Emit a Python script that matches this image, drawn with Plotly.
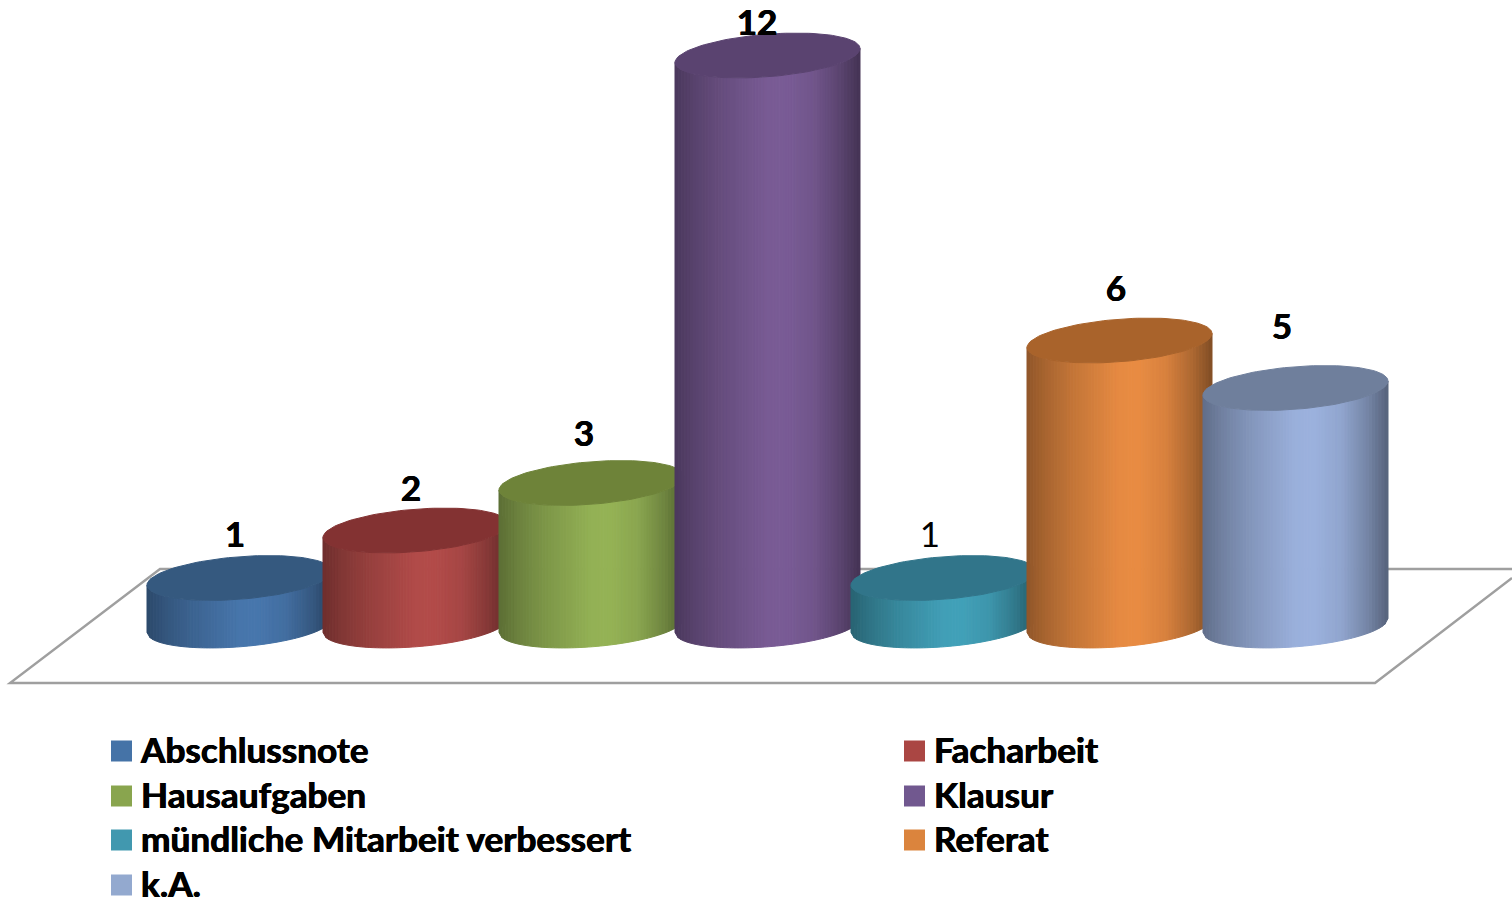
import numpy as np
import plotly.graph_objects as go

categories = ['Abschlussnote', 'Facharbeit', 'Hausaufgaben', 'Klausur',
              'mündliche Mitarbeit verbessert', 'Referat', 'k.A.']
values = [1, 2, 3, 12, 1, 6, 5]

side_colors = ['#4877ad', '#b34c4a', '#95b356', '#7a5c96', '#42a1b9', '#e98c43', '#9cb2de']
top_colors = ['#35597f', '#833232', '#6e8339', '#5a4370', '#31758a', '#a9632b', '#6f7f9c']
legend_colors = ['#4573a7', '#aa4643', '#89a54e', '#71588f', '#4198af', '#db843d', '#93a9cf']

# label nudges in pixels, excel placed them unevenly
label_dx = [-4.5, -4.5, -7.5, -10.5, -13.5, -3.5, -13.5]
label_dy = [40, 38, 46, 29.5, 40, 48, 58]
label_bold = [True, True, True, True, False, True, True]

W, H = 1512, 898
X0_PX, Y0_PX = 239.5, 625.5     # pixel of first category at value 0
X_UNIT, Y_UNIT = 176, 47.5      # pixels per category / per value

# cylinder shape in axis units
RX = 92.5 / X_UNIT
RY = 21.3 / Y_UNIT
TILT = 7 / Y_UNIT
N_STRIPS = 60

font_name = 'Lato'
heavy = '0.5px 0 0 black, -0.4px 0 0 black'


def px_x(p):
    return (p - X0_PX) / X_UNIT


def px_y(p):
    return (Y0_PX - p) / Y_UNIT


def shade(hex_color, f):
    rgb = [int(hex_color[i:i + 2], 16) for i in (1, 3, 5)]
    return 'rgb({},{},{})'.format(*[int(c * f) for c in rgb])


def arc(cx, level, u):
    # point on the front half of the ellipse, u goes 0..1 left to right
    c = 2 * u - 1
    s = np.sqrt(np.clip(1 - c * c, 0, 1))
    return cx + RX * c, level + TILT * c - RY * s


fig = go.Figure()

for i, v in enumerate(values):
    edges = np.linspace(0, 1, N_STRIPS + 1)
    for u1, u2 in zip(edges[:-1], edges[1:]):
        f = np.interp((u1 + u2) / 2,
                      [0, 0.1, 0.25, 0.5, 0.6, 0.75, 0.9, 1],
                      [0.62, 0.72, 0.84, 0.99, 1, 0.93, 0.74, 0.56])
        col = shade(side_colors[i], f)
        x1, y1 = arc(i, 0, u1)
        x2, y2 = arc(i, 0, u2)
        x3, y3 = arc(i, v, u2)
        x4, y4 = arc(i, v, u1)
        fig.add_trace(go.Scatter(
            x = [x1, x2, x3, x4, x1], y = [y1, y2, y3, y4, y1],
            mode = 'lines', fill = 'toself', fillcolor = col,
            line = dict(color = col, width = 1),
            hoverinfo = 'skip', showlegend = False))

    t = np.linspace(0, 2 * np.pi, 120)
    fig.add_trace(go.Scatter(
        x = i + RX * np.cos(t), y = v + TILT * np.cos(t) + RY * np.sin(t),
        mode = 'lines', fill = 'toself', fillcolor = top_colors[i],
        line = dict(color = top_colors[i], width = 1),
        name = categories[i], showlegend = False,
        hovertemplate = categories[i] + ': ' + str(v) + '<extra></extra>'))

##### value labels ######
for i, v in enumerate(values):
    fig.add_trace(go.Scatter(
        x = [i + label_dx[i] / X_UNIT],
        y = [v + label_dy[i] / Y_UNIT],
        mode = 'text',
        text = [('<b>%d</b>' % v) if label_bold[i] else str(v)],
        textposition = 'middle center',
        textfont = dict(family = font_name, size = 35, color = 'black',
                        shadow = heavy if label_bold[i] else 'none'),
        hoverinfo = 'skip', showlegend = False))

##### legend, two columns ######
legend_x = [111 if i % 2 == 0 else 904 for i in range(len(categories))]
legend_y = [751, 751, 796, 796, 840, 840, 885]
fig.add_trace(go.Scatter(
    x = [px_x(p + 10.5) for p in legend_x], y = [px_y(p) for p in legend_y],
    mode = 'markers',
    marker = dict(symbol = 'square', size = 21, color = legend_colors),
    hoverinfo = 'skip', showlegend = False))
fig.add_trace(go.Scatter(
    x = [px_x(p + 30) for p in legend_x], y = [px_y(p + 3.5) for p in legend_y],
    mode = 'text',
    text = ['<b>' + c + '</b>' for c in categories],
    textposition = 'middle right',
    textfont = dict(family = font_name, size = 35.2, color = 'black', shadow = heavy),
    hoverinfo = 'skip', showlegend = False))

# floor of the 3d box
fl = 'M {} {} L {} {} L {} {} L {} {} L {} {}'.format(
    px_x(1512), px_y(578), px_x(1375), px_y(683), px_x(10), px_y(683),
    px_x(160), px_y(569), px_x(1512), px_y(569))

fig.update_layout(
    width = W, height = H,
    margin = dict(l = 0, r = 0, t = 0, b = 0),
    plot_bgcolor = 'white', paper_bgcolor = 'white',
    showlegend = False,
    xaxis = dict(range = [px_x(0), px_x(W)], visible = False, fixedrange = True),
    yaxis = dict(range = [px_y(H), px_y(0)], visible = False, fixedrange = True),
    shapes = [dict(type = 'path', path = fl, layer = 'below', xref = 'x', yref = 'y',
                   line = dict(color = '#9f9f9f', width = 2.4))],
)

# page has a default body margin that would push the chart off
fig.write_html("out.html", config = dict(displayModeBar = False),
               post_script = "document.body.style.margin = '0'; document.body.style.overflow = 'hidden';")
